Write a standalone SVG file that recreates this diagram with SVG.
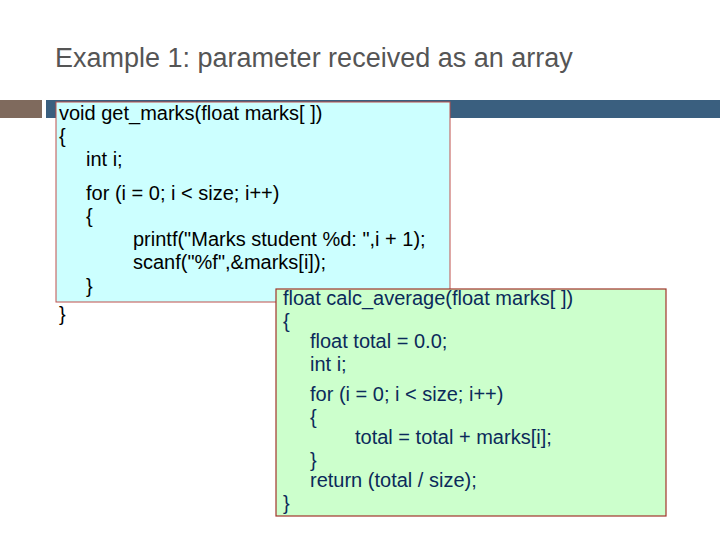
<svg xmlns="http://www.w3.org/2000/svg" width="720" height="540" viewBox="0 0 720 540">
<style>
.c{font-family:"Liberation Sans",Arial,sans-serif;font-size:20px}
.k{fill:#000}
.n{fill:#0b2a5a}
</style>
<rect width="720" height="540" fill="#fff"/>
<text x="55" y="67" font-family="Liberation Sans,Arial,sans-serif" font-size="27" fill="#555">Example 1: parameter received as an array</text>
<rect x="0" y="100" width="42" height="18" fill="#7f6a5d"/>
<rect x="46" y="100" width="674" height="18" fill="#3a5f7f"/>
<g id="get_marks">
<rect x="56" y="102" width="394" height="200" fill="#ccffff" stroke="#c0504d" stroke-width="1"/>
<text class="c k" x="59" y="120">void get_marks(float marks[ ])</text>
<text class="c k" x="59" y="143">{</text>
<text class="c k" x="86" y="166">int i;</text>
<text class="c k" x="86" y="200">for (i = 0; i &lt; size; i++)</text>
<text class="c k" x="86" y="223">{</text>
<text class="c k" x="133" y="246">printf("Marks student %d: ",i + 1);</text>
<text class="c k" x="133" y="269">scanf("%f",&amp;marks[i]);</text>
<text class="c k" x="86" y="293">}</text>
<text class="c k" x="59" y="321">}</text>
</g>
<g id="calc_average">
<rect x="276" y="289" width="390" height="227" fill="#ccffcc" stroke="#a0352a" stroke-width="1.2"/>
<text class="c n" x="283" y="305">float calc_average(float marks[ ])</text>
<text class="c n" x="283" y="328">{</text>
<text class="c n" x="310" y="348">float total = 0.0;</text>
<text class="c n" x="310" y="371">int i;</text>
<text class="c n" x="310" y="401">for (i = 0; i &lt; size; i++)</text>
<text class="c n" x="310" y="424">{</text>
<text class="c n" x="355" y="444">total = total + marks[i];</text>
<text class="c n" x="310" y="467">}</text>
<text class="c n" x="310" y="487">return (total / size);</text>
<text class="c n" x="283" y="510">}</text>
</g>
<g id="connectors"/>
</svg>
